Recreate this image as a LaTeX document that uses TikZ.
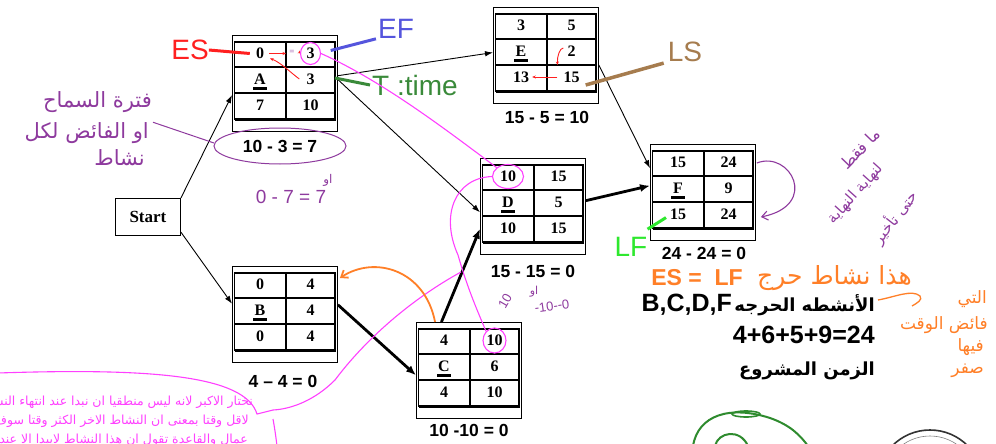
\documentclass[tikz,border=0pt]{standalone}
\usepackage{fontspec}
\setmainfont{Liberation Serif}
\newfontfamily\arial{Liberation Sans}
\newfontfamily\arfont[Script=Arabic]{DejaVu Sans}
\usetikzlibrary{arrows.meta,calc,shapes.geometric}
\TeXXeTstate=1
\newcommand\setfs[1]{\fontsize{#1}{#1}\selectfont}
\definecolor{esred}{HTML}{FF2020}
\definecolor{efblue}{HTML}{5555DD}
\definecolor{tgreen}{HTML}{3A8A3A}
\definecolor{lsbrown}{HTML}{A67C4E}
\definecolor{lfgreen}{HTML}{2EE82E}
\definecolor{orng}{HTML}{FF7F27}
\definecolor{handpurple}{HTML}{8E3A9E}
\definecolor{pinkline}{HTML}{FF40FF}
\definecolor{loopgreen}{HTML}{2E8B2E}
\tikzset{
 outerbox/.style={draw, line width=0.9pt, minimum width=105pt, minimum height=96pt, anchor=north west, inner sep=0pt},
 gridline/.style={line width=1.3pt},
 cell/.style={font=\bfseries\setfs{16}, inner sep=0pt},
 thin arrow/.style={line width=0.9pt, -{Latex[length=8pt,width=5.5pt]}},
 thick arrow/.style={line width=2.8pt, -{Latex[length=10pt,width=8pt]}},
 sublabel/.style={font=\arial\bfseries\setfs{17.5}, inner sep=0pt},
 tag/.style={font=\arial\setfs{28}, inner sep=0pt},
 hand/.style={font=\arfont\setfs{21}, inner sep=0pt, text=handpurple},
 pinkring/.style={draw=pinkline, line width=1.1pt, ellipse, inner sep=0pt},
 pinkpath/.style={draw=pinkline, line width=1.1pt},
 bubbletext/.style={text=pinkline, font=\arfont\setfs{12.5}, inner sep=0pt, anchor=east},
 orangehand/.style={font=\arfont\setfs{17}, text=orng, inner sep=0pt, anchor=east},
 redarrow/.style={draw=esred, line width=0.9pt, -{Stealth[length=3.5pt,width=3pt]}},
}
\newcommand{\pertbox}[8]{%
\begin{scope}[shift={#2}]
\node[outerbox] (#1) at (0,0) {};
\draw[gridline] (2.5,7) rectangle (103,84.5);
\draw[gridline] (2.5,32) -- (103,32) (2.5,58) -- (103,58) (54,7) -- (54,84.5);
\draw[line width=2.6pt] (103,7) -- (103,84.5) -- (2.5,84.5);
\node[cell] (#1-es) at (28,18.5) {#3};
\node[cell] (#1-ef) at (78.5,18.5) {#4};
\node[cell] (#1-n) at (28,44) {#5};
\node[cell] (#1-t) at (78.5,44) {#6};
\node[cell] (#1-ls) at (28,70) {#7};
\node[cell] (#1-lf) at (78.5,70) {#8};
\draw[line width=2.6pt] ([shift={(-7,9.5)}]#1-n.center) -- ([shift={(7,9.5)}]#1-n.center);
\end{scope}}
\begin{document}
\begin{tikzpicture}[x=1pt,y=-1pt]
\useasboundingbox (0,0) rectangle (996,444);
\clip (0,0) rectangle (996,444);
\fill[white] (0,0) rectangle (996,444);

% boxes
\node[draw, line width=0.9pt, minimum width=65pt, minimum height=37pt, anchor=north west, inner sep=0pt, font=\bfseries\setfs{17}] (start) at (115,198) {Start};
\pertbox{A}{(232,35)}{0}{3}{A}{3}{7}{10}
\pertbox{E}{(493,7)}{3}{5}{E}{2}{13}{15}
\pertbox{D}{(480,158)}{10}{15}{D}{5}{10}{15}
\pertbox{F}{(650,144)}{15}{24}{F}{9}{15}{24}
\pertbox{B}{(232,266)}{0}{4}{B}{4}{0}{4}
\pertbox{C}{(416,322)}{4}{10}{C}{6}{4}{10}

% slack labels
\node[sublabel] (Alb) at (280,146) {10 - 3 = 7};
\node[sublabel] (Elb) at (547,117) {15 - 5 = 10};
\node[sublabel] (Dlb) at (533,271) {15 - 15 = 0};
\node[sublabel] (Flb) at (704,253) {24 - 24 = 0};
\node[sublabel] (Blb) at (283,381) {4 – 4 = 0};
\node[sublabel] (Clb) at (469,430) {10 -10 = 0};

% connectors
\draw[thin arrow] (start.north east) -- ($(A.north west)!0.62!(A.south west)$);
\draw[thin arrow] ($(start.north east)!0.9!(start.south east)$) -- ($(B.north west)!0.39!(B.south west)$);
\draw[thin arrow] ($(A.north east)!0.42!(A.south east)$) -- ($(E.north west)!0.47!(E.south west)$);
\draw[thin arrow] ($(A.north east)!0.46!(A.south east)$) -- ($(D.north west)!0.56!(D.south west)$);
\draw[thin arrow] ($(E.north east)!0.6!(E.south east)$) -- ($(F.north west)!0.25!(F.south west)$);
\draw[thick arrow] ($(D.north east)!0.44!(D.south east)$) -- ($(F.north west)!0.43!(F.south west)$);
\draw[thick arrow] ($(B.north east)!0.4!(B.south east)$) -- ($(C.north west)!0.55!(C.south west)$);
\draw[thick arrow] ($(C.north west)!0.24!(C.north east)$) -- ($(D.north west)!0.73!(D.south west)$);

% coloured tags
\node[tag, text=esred] (ES) at (190,50) {ES};
\draw[esred, line width=3pt] (ES.east) -- ([xshift=-6]A-es.west);
\node[tag, text=efblue] (EF) at (396,29) {EF};
\draw[efblue, line width=3pt] ([xshift=-2]EF.south west) -- ([shift={(16,-3)}]A-ef.east);
\node[tag, text=tgreen] (T) at (415,85) {T :time};
\draw[tgreen, line width=3pt] ([xshift=-2]T.west) -- ($(A.north east)+(-3,43)$);
\node[tag, text=lsbrown] (LS) at (685,52) {LS};
\draw[lsbrown, line width=3.5pt] ([shift={(-4,1)}]LS.south west) -- ([shift={(6,8)}]E-lf.east);
\node[tag, text=lfgreen] (LF) at (631,247) {LF};
\draw[lfgreen, line width=3pt] ([shift={(0,-8)}]LF.north east) -- ([shift={(-12,-2)}]F-ls.south);

% small red arrows
\draw[redarrow] ([xshift=9]A-es.center) -- ([xshift=26]A-es.center);
\node[text=handpurple, font=\setfs{9}, inner sep=0pt] (eq) at (292,52) {=};
\draw[redarrow] ([xshift=4]eq.east) -- ([xshift=-5]A-ef.west);
\draw[redarrow] ([xshift=-7]A-t.west) .. controls (290,72) and (280,62) .. ([shift={(10,5)}]A-es.center);
\draw[redarrow] ([shift={(-4,-3)}]E-t.west) .. controls (560,48) and (557,56) .. ([shift={(-14,14)}]E-t.center);
\draw[redarrow] ([xshift=-6]E-lf.west) -- ([xshift=3]E-ls.east);

% purple hand notes
\draw[handpurple, line width=1pt] (Alb) ellipse [x radius=66, y radius=18];
\node[hand, anchor=east] (h1) at (152,102) {\beginR فترة السماح\endR};
\node[hand, anchor=east] (h2) at (149,133) {\beginR او الفائض لكل\endR};
\node[hand, anchor=east] (h3) at (145,158) {\beginR نشاط\endR};
\draw[handpurple, line width=1pt] ([xshift=4]h2.north east) -- ($(Alb)+(-66,-3)$);
\node[text=handpurple, font=\arial\setfs{19}, inner sep=0pt] (n07) at (291,197) {0 - 7 = 7};
\node[hand, font=\arfont\setfs{12}] at (328,180) {\beginR او\endR};
\node[text=handpurple, font=\arial\setfs{13}, inner sep=0pt, rotate=60] at (505,301) {10};
\node[hand, font=\arfont\setfs{11}] at (534,292) {\beginR او\endR};
\node[text=handpurple, font=\arial\setfs{13}, inner sep=0pt, rotate=8] at (552,306) {-10--0};
\draw[handpurple, line width=1.1pt, -{Straight Barb[length=6pt,width=9pt]}] ([shift={(1,19)}]F.north east) .. controls (790,150) and (820,205) .. ([shift={(5,73)}]F.north east);
\node[hand, font=\arfont\setfs{16}, rotate=46] at (860,149) {\beginR ما فقط\endR};
\node[hand, font=\arfont\setfs{15}, rotate=48] at (856,194) {\beginR لنهاية النهاية\endR};
\node[hand, font=\arfont\setfs{15}, rotate=52] at (895,217) {\beginR حتى تأخير\endR};

% pink annotations
\node[pinkring, minimum width=20pt, minimum height=22pt] (pA) at (A-ef) {};
\node[pinkring, minimum width=31pt, minimum height=24pt] (pD) at (D-es) {};
\node[pinkring, minimum width=23pt, minimum height=25pt] (pC) at (C-ef) {};
\draw[pinkpath] (pA.east) .. controls (380,80) and (440,125) .. (pD.north west);
\draw[pinkpath] (pD.west) .. controls (455,178) and (440,215) .. (458,255) .. controls (468,290) and (478,312) .. (pC.north west);
\coordinate (tail) at (273,410);
\draw[pinkpath] (461,272) .. controls (410,300) and (365,340) .. (335,380) .. controls (315,400) and (292,409) .. (tail);
\draw[pinkpath] (-2,373) .. controls (150,368) and (245,375) .. (257,414) -- (tail);
\draw[pinkpath] (273,419) .. controls (275,430) and (276,438) .. (277,446);
\node[bubbletext] at (253,402) {\beginR نختار الاكبر لانه ليس منطقيا ان نبدا عند انتهاء النشاط\endR};
\node[bubbletext] at (249,420) {\beginR لاقل وقتا بمعنى ان النشاط الاخر الكثر وقتا سوف يبدأ\endR};
\node[bubbletext] at (248,440) {\beginR عمال والقاعدة تقول ان هذا النشاط لايبدا الا عند انتهاء\endR};

% orange
\draw[orng, line width=1.8pt, -{Straight Barb[length=6pt,width=9pt]}] ($(C.north west)!0.18!(C.north east)$) .. controls (425,270) and (375,255) .. ([shift={(2,12)}]B.north east);
\node[font=\arial\bfseries\setfs{23}, text=orng, inner sep=0pt] (eslf) at (697,278) {ES = \ LF};
\node[font=\arfont\setfs{25}, text=orng, inner sep=0pt, anchor=west] (crit) at (757,278) {\beginR هذا نشاط حرج\endR};
\draw[orng, line width=1.3pt] (878,300) .. controls (895,297) and (912,289) .. (920,296) .. controls (923,300) and (917,303) .. (912,306);
\node[orangehand] at (987,299) {\beginR التي\endR};
\node[orangehand] at (988,325) {\beginR فائض الوقت\endR};
\node[orangehand] at (984,347) {\beginR فيها\endR};
\node[orangehand] at (984,371) {\beginR صفر\endR};

% black summary
\node[inner sep=0pt, anchor=east] (crl) at (875,305) {{\arial\bfseries\setfs{25}B,C,D,F} {\arfont\bfseries\setfs{18}\beginR الأنشطه الحرجه\endR}};
\node[inner sep=0pt, anchor=east, font=\arial\bfseries\setfs{25}] (sum) at (875,335) {4+6+5+9=24};
\node[inner sep=0pt, anchor=east, font=\arfont\bfseries\setfs{18}] (prj) at (875,371) {\beginR الزمن المشروع\endR};

% bottom right scribbles
\draw[loopgreen, line width=2pt] (693,446) .. controls (698,415) and (730,405) .. (770,418) .. controls (790,425) and (800,435) .. (808,446);
\draw[loopgreen, line width=1.6pt] (746,414) ellipse [x radius=14, y radius=3];
\draw[loopgreen, line width=2pt] (715,446) .. controls (718,432) and (740,428) .. (748,446);
\draw[line width=1.6pt, black!80] (930,483) circle (53);
\draw[line width=0.6pt, black!50] (930,483) circle (47);
\end{tikzpicture}
\end{document}
